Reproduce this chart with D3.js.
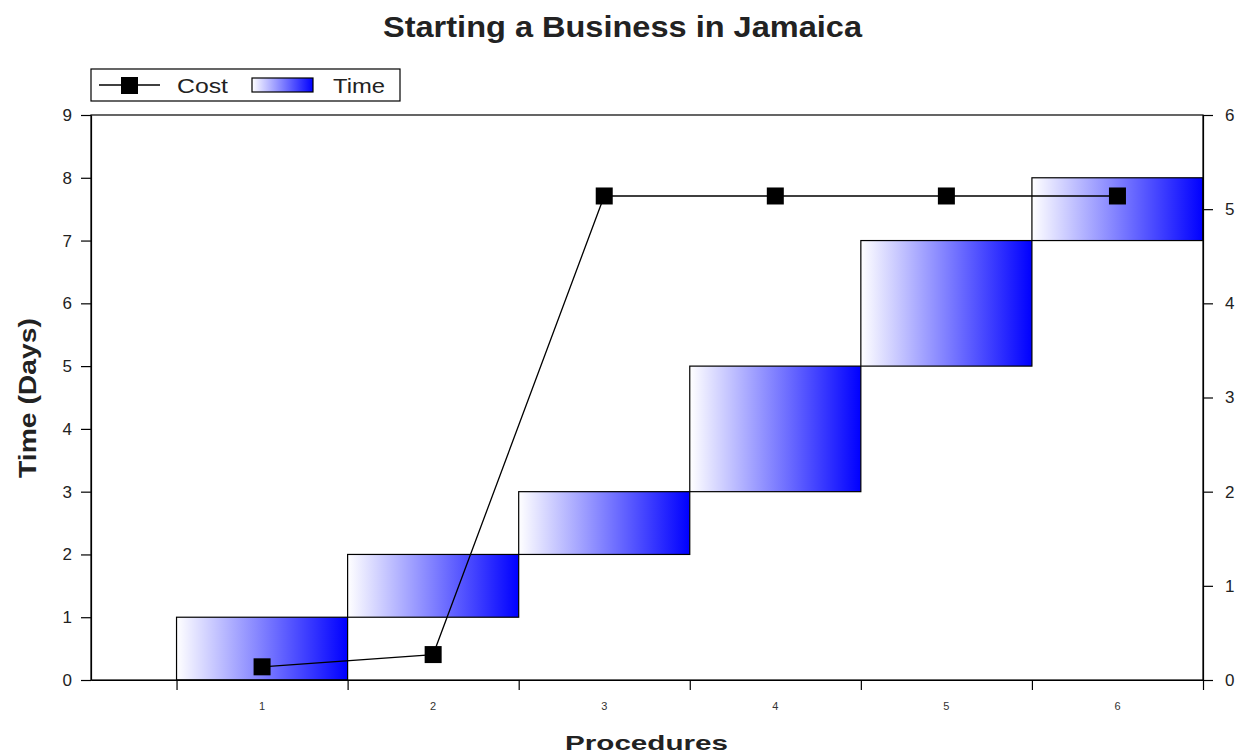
<!DOCTYPE html>
<html>
<head>
<meta charset="utf-8">
<script src="https://cdn.jsdelivr.net/npm/d3@7"></script>
<style>
  html, body { margin: 0; padding: 0; background: #fff; }
  svg { display: block; font-family: "Liberation Sans", Arial, sans-serif; }
</style>
</head>
<body>
<svg id="chart" width="1240" height="755"></svg>
<script>
// Procedures and their time spans (start day, end day)
const procedures = [1, 2, 3, 4, 5, 6];
const timeStart = [0, 1, 2, 3, 5, 7];
const timeEnd   = [1, 2, 3, 5, 7, 8];
// Cumulative cost (right axis)
const cost = [0.14, 0.27, 5.14, 5.14, 5.14, 5.14];
const leftTicks = [0, 1, 2, 3, 4, 5, 6, 7, 8, 9];
const rightTicks = [0, 1, 2, 3, 4, 5, 6];

const svg = d3.select("#chart");
const m = { left: 91, right: 1203, top: 115, bottom: 680 };

const x = d3.scaleLinear().domain([0, 6.5]).range([m.left, m.right]);
const yL = d3.scaleLinear().domain([0, 9]).range([m.bottom, m.top]);
const yR = d3.scaleLinear().domain([0, 6]).range([m.bottom, m.top]);

const defs = svg.append("defs");
const grad = defs.append("linearGradient").attr("id", "timeGrad")
  .attr("x1", "0%").attr("x2", "100%").attr("y1", "0%").attr("y2", "0%");
grad.append("stop").attr("offset", "0%").attr("stop-color", "#ffffff");
grad.append("stop").attr("offset", "100%").attr("stop-color", "#0000ff");

// Title
svg.append("text").attr("x", 383).attr("y", 37)
  .attr("font-size", 29).attr("font-weight", "bold").attr("fill", "#222")
  .attr("textLength", 479).attr("lengthAdjust", "spacingAndGlyphs")
  .text("Starting a Business in Jamaica");

// Floating time bars
const data = procedures.map((p, i) => ({ p, s: timeStart[i], e: timeEnd[i], c: cost[i] }));
svg.append("g").selectAll("rect").data(data).join("rect")
  .attr("x", d => x(d.p - 0.5))
  .attr("width", d => x(d.p + 0.5) - x(d.p - 0.5))
  .attr("y", d => yL(d.e))
  .attr("height", d => yL(d.s) - yL(d.e))
  .attr("fill", "url(#timeGrad)")
  .attr("stroke", "#000").attr("stroke-width", 1.2);

// Plot frame
svg.append("rect").attr("x", m.left).attr("y", m.top)
  .attr("width", m.right - m.left).attr("height", m.bottom - m.top)
  .attr("fill", "none").attr("stroke", "#000").attr("stroke-width", 1.2);

// Left axis
const axL = svg.append("g").attr("transform", `translate(${m.left},0)`)
  .call(d3.axisLeft(yL).tickValues(leftTicks).tickSize(10).tickSizeOuter(0).tickPadding(9)
    .tickFormat(d3.format("d")));
axL.selectAll("text").attr("font-size", 17).attr("fill", "#222");

// Right axis
const axR = svg.append("g").attr("transform", `translate(${m.right},0)`)
  .call(d3.axisRight(yR).tickValues(rightTicks).tickSize(10).tickSizeOuter(0).tickPadding(12)
    .tickFormat(d3.format("d")));
axR.selectAll("text").attr("font-size", 17).attr("fill", "#222");

// Bottom axis: ticks at category boundaries, labels at centers
const axB = svg.append("g").attr("transform", `translate(0,${m.bottom})`)
  .call(d3.axisBottom(x).tickValues(procedures.map(p => p - 0.5).concat([6.5]))
    .tickSize(10).tickSizeOuter(0).tickFormat(""));
svg.append("g").selectAll("text").data(procedures).join("text")
  .attr("x", d => x(d)).attr("y", m.bottom + 30).attr("text-anchor", "middle")
  .attr("font-size", 11).attr("fill", "#333").text(d => d);

[axL, axR, axB].forEach(a => {
  a.select(".domain").attr("stroke", "#000").attr("stroke-width", 1.2);
  a.selectAll(".tick line").attr("stroke", "#000").attr("stroke-width", 1.2);
});

// Cost line with square markers
const line = d3.line().x(d => x(d.p)).y(d => yR(d.c));
svg.append("path").datum(data).attr("d", line)
  .attr("fill", "none").attr("stroke", "#000").attr("stroke-width", 1.3);
svg.append("g").selectAll("rect").data(data).join("rect")
  .attr("x", d => x(d.p) - 8.5).attr("y", d => yR(d.c) - 8.5)
  .attr("width", 17).attr("height", 17).attr("fill", "#000");

// Axis titles
svg.append("text").attr("transform", "translate(36,478) rotate(-90)")
  .attr("font-size", 23).attr("font-weight", "bold")
  .attr("textLength", 160).attr("lengthAdjust", "spacingAndGlyphs")
  .attr("fill", "#222").text("Time (Days)");
svg.append("text").attr("x", 565).attr("y", 750)
  .attr("font-size", 21).attr("font-weight", "bold").attr("fill", "#222")
  .attr("textLength", 163).attr("lengthAdjust", "spacingAndGlyphs")
  .text("Procedures");

// Legend
const lg = svg.append("g");
lg.append("rect").attr("x", 91).attr("y", 69).attr("width", 309).attr("height", 32)
  .attr("fill", "#fff").attr("stroke", "#000").attr("stroke-width", 1.2);
lg.append("line").attr("x1", 99).attr("x2", 160).attr("y1", 85).attr("y2", 85)
  .attr("stroke", "#000").attr("stroke-width", 1.3);
lg.append("rect").attr("x", 121).attr("y", 77).attr("width", 17).attr("height", 17).attr("fill", "#000");
lg.append("text").attr("x", 177).attr("y", 93).attr("font-size", 21).attr("fill", "#222")
  .attr("textLength", 51).attr("lengthAdjust", "spacingAndGlyphs").text("Cost");
lg.append("rect").attr("x", 252).attr("y", 78).attr("width", 61).attr("height", 14)
  .attr("fill", "url(#timeGrad)").attr("stroke", "#000").attr("stroke-width", 1.2);
lg.append("text").attr("x", 333).attr("y", 93).attr("font-size", 21).attr("fill", "#222")
  .attr("textLength", 52).attr("lengthAdjust", "spacingAndGlyphs").text("Time");
</script>
</body>
</html>
